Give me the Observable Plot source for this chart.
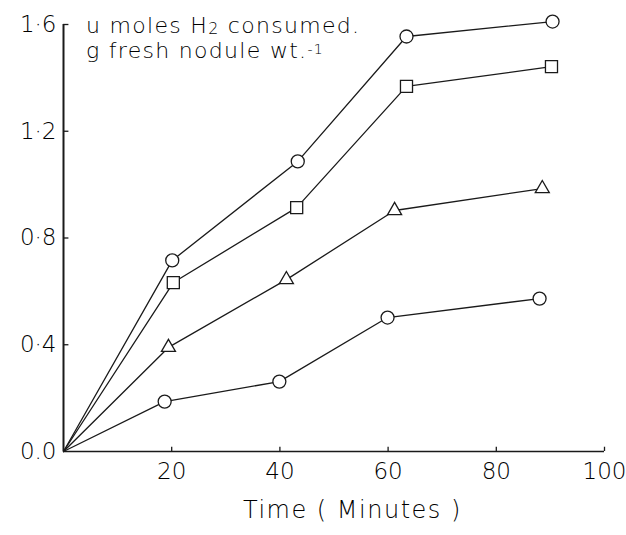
<!DOCTYPE html>
<html>
<head>
<meta charset="utf-8">
<script src="https://cdn.jsdelivr.net/npm/d3@7"></script>
<script src="https://cdn.jsdelivr.net/npm/@observablehq/plot@0.6"></script>
<style>
  html, body { margin: 0; padding: 0; background: #fff; }
  #wrap { position: relative; width: 626px; height: 535px; }
  .tl { position: absolute; left: 86px; font-family: "DejaVu Sans", sans-serif; font-weight: 200; font-size: 22px; line-height: 22px; color: #000; white-space: nowrap; letter-spacing: 1.3px; }
  #t1 { top: 14.5px; }
  #t2 { top: 39.5px; }
  .tl sub { font-size: 72%; vertical-align: -0.06em; line-height: 0; }
  .tl sup { font-size: 64%; vertical-align: 0.3em; line-height: 0; }
</style>
</head>
<body>
<div id="wrap">
  <div id="chart"></div>
  <div class="tl" id="t1">u moles H<sub>2</sub> consumed.</div>
  <div class="tl" id="t2">g fresh nodule wt.<sup>-1</sup></div>
</div>
<script>
// Series (time in minutes, µmoles H2 consumed per g fresh nodule wt)
const timeA = [0, 20.1, 43.3, 63.4, 90.4];
const valA  = [0, 0.716, 1.087, 1.555, 1.611];   // open circles (top)
const timeB = [0, 20.3, 43.1, 63.4, 90.2];
const valB  = [0, 0.633, 0.914, 1.368, 1.442];   // open squares
const timeC = [0, 19.4, 41.2, 61.2, 88.5];
const valC  = [0, 0.39, 0.644, 0.903, 0.985];    // open triangles
const timeD = [0, 18.7, 39.9, 59.9, 88.0];
const valD  = [0, 0.187, 0.262, 0.502, 0.573];   // open circles (bottom)

const xTicks = [20, 40, 60, 80, 100];
const yTicks = [0, 0.4, 0.8, 1.2, 1.6];
const yTickLabels = ["0.0", "0·4", "0·8", "1·2", "1·6"];
const xAxisTitle = ["Time ( Minutes )"];

const seriesDefs = [
  {t: timeA, v: valA, symbol: "circle", r: 6.5},
  {t: timeB, v: valB, symbol: "square", r: 6.8},
  {t: timeC, v: valC, symbol: "triangle", r: 5.2},
  {t: timeD, v: valD, symbol: "circle", r: 6.5}
];
const labelMap = new Map(yTicks.map((d, i) => [d, yTickLabels[i]]));
const ink = "#1a1a1a";

const seriesMarks = seriesDefs.flatMap(s => {
  const pts = s.t.map((t, i) => ({time: t, value: s.v[i]}));
  return [
    Plot.line(pts, {x: "time", y: "value", stroke: ink, strokeWidth: 1.3}),
    Plot.dot(pts.slice(1), {x: "time", y: "value", symbol: s.symbol, r: s.r, stroke: ink, strokeWidth: 1.3, fill: "#fff"})
  ];
});

const chart = Plot.plot({
  width: 626,
  height: 535,
  marginLeft: 63,
  marginRight: 22,
  marginTop: 24,
  marginBottom: 84,
  x: {domain: [0, 100]},
  y: {domain: [0, 1.6]},
  style: {fontFamily: "'DejaVu Sans', sans-serif", fontWeight: 200, fontSize: "23px", color: "#000", background: "#fff"},
  marks: [
    Plot.axisX({ticks: xTicks, tickSize: 0, tickPadding: 11, label: null, fontSize: 23}),
    Plot.axisY({ticks: yTicks, tickSize: 0, tickPadding: 7, label: null, fontSize: 23, tickFormat: d => labelMap.get(d)}),
    Plot.ruleY([0], {x1: 0, x2: 100, stroke: ink, strokeWidth: 1.5}),
    Plot.ruleX([0], {y1: 0, y2: 1.6, stroke: ink, strokeWidth: 2}),
    Plot.ruleX(xTicks, {y1: 0, y2: 0.016, stroke: ink, strokeWidth: 1.3}),
    Plot.ruleY(yTicks.filter(d => d > 0), {x1: 0, x2: 1, stroke: ink, strokeWidth: 1.3}),
    ...seriesMarks,
    Plot.text(xAxisTitle, {x: () => 53.4, y: () => 0, text: d => d, dy: 59, fontSize: 24, fill: "#000"})
  ]
});
chart.querySelectorAll("text").forEach(t => { if (t.textContent === "Time ( Minutes )") t.setAttribute("letter-spacing", "1.5"); });
document.getElementById("chart").appendChild(chart);
</script>
</body>
</html>
